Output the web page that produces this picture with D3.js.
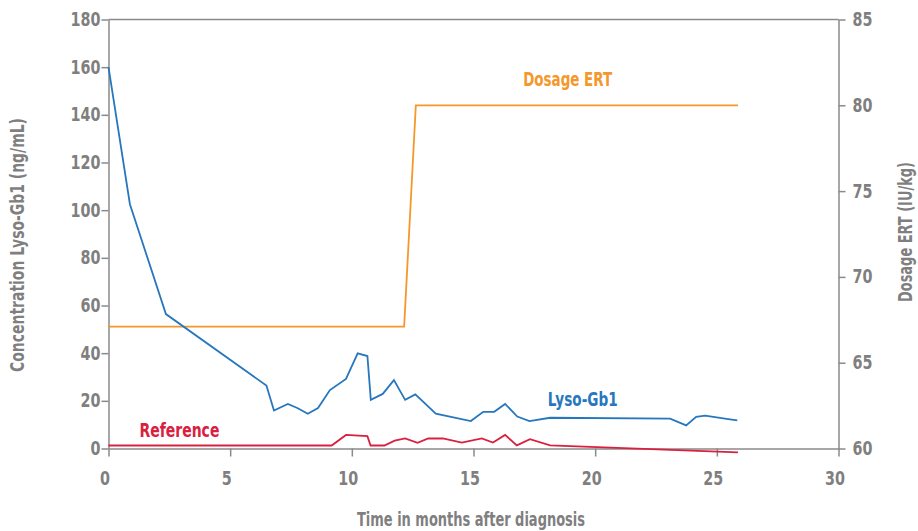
<!DOCTYPE html>
<html>
<head>
<meta charset="utf-8">
<script src="https://cdn.jsdelivr.net/npm/d3@7"></script>
<style>
  html, body { margin: 0; padding: 0; background: #fff; }
  svg { display: block; }
  text { font-family: "Liberation Sans Narrow", "DejaVu Sans Condensed", "Arial Narrow", sans-serif; font-weight: bold; }
</style>
</head>
<body>
<svg id="chart" width="918" height="531"></svg>
<script>
// ---- Data ----
const lysoMonths = [0, 0.88, 2.36, 6.49, 6.8, 7.37, 7.76, 8.19, 8.61, 9.1, 9.76, 10.24, 10.64, 10.78, 11.27, 11.73, 12.19, 12.61, 13.45, 14.89, 15.4, 15.85, 16.3, 16.8, 17.3, 18.15, 23.08, 23.74, 24.15, 24.52, 25.47, 25.84];
const lysoValues = [160, 102.5, 56.4, 26.4, 15.9, 18.7, 17.0, 14.6, 17.0, 24.5, 29.2, 39.9, 38.8, 20.4, 22.9, 28.7, 20.4, 22.7, 14.6, 11.5, 15.4, 15.4, 18.7, 13.4, 11.5, 12.9, 12.5, 9.7, 13.3, 13.8, 12.3, 11.8];

const refMonths = [0, 9.17, 9.76, 10.64, 10.77, 11.34, 11.76, 12.19, 12.7, 13.14, 13.74, 14.52, 15.34, 15.8, 16.3, 16.78, 17.32, 18.15, 25.87];
const refValues = [1.26, 1.26, 5.7, 5.2, 1.26, 1.26, 3.3, 4.2, 2.4, 4.2, 4.2, 2.5, 4.2, 2.5, 5.7, 1.3, 3.9, 1.3, -1.6];

const doseMonths = [0, 12.15, 12.63, 25.87];
const doseValues = [67.1, 67.1, 80, 80];

const xTicks = [0, 5, 10, 15, 20, 25, 30];
const yLeftTicks = [0, 20, 40, 60, 80, 100, 120, 140, 160, 180];
const yRightTicks = [60, 65, 70, 75, 80, 85];

const xTitle = "Time in months after diagnosis";
const yLeftTitle = "Concentration Lyso-Gb1 (ng/mL)";
const yRightTitle = "Dosage ERT (IU/kg)";
const seriesNames = ["Lyso-Gb1", "Reference", "Dosage ERT"];

// ---- Drawing ----
const C = { blue: "#2777bf", red: "#d9203f", orange: "#f4982b", axis: "#8a8a8a", text: "#7f7f7f" };
const svg = d3.select("#chart");
const L = 108.5, R = 838.5, T = 19.5, B = 448.5;
const SX = 0.84; // horizontal condensing of the fallback font

const x = d3.scaleLinear().domain([0, 30]).range([L, R]);
const yL = d3.scaleLinear().domain([0, 180]).range([B, T]);
const yR = d3.scaleLinear().domain([60, 85]).range([B, T]);

// frame top line
svg.append("line").attr("x1", L).attr("x2", R).attr("y1", T).attr("y2", T)
  .attr("stroke", C.axis).attr("stroke-width", 1.5);

function styleAxis(g, dx) {
  g.select(".domain").attr("stroke", C.axis).attr("stroke-width", 1.5);
  g.selectAll(".tick line").attr("stroke", C.axis).attr("stroke-width", 1.5);
  g.selectAll(".tick text").attr("fill", C.text).style("font-size", "19px")
    .each(function () {
      const t = d3.select(this);
      const tx = +(t.attr("x") || 0) + (dx || 0);
      t.attr("x", 0).attr("transform", `translate(${tx},0) scale(${SX},1)`);
    });
}

const gx = svg.append("g").attr("transform", `translate(0,${B})`)
  .call(d3.axisBottom(x).tickValues(xTicks).tickSize(8).tickSizeOuter(0).tickPadding(15));
styleAxis(gx, -4);

const gyl = svg.append("g").attr("transform", `translate(${L},0)`)
  .call(d3.axisLeft(yL).tickValues(yLeftTicks).tickSize(7).tickSizeOuter(0).tickPadding(1));
styleAxis(gyl, 0);

const gyr = svg.append("g").attr("transform", `translate(${R},0)`)
  .call(d3.axisRight(yR).tickValues(yRightTicks).tickSize(7).tickSizeOuter(0).tickPadding(7));
styleAxis(gyr, 0);

function label(sel, len) {
  return sel.attr("textLength", len).attr("lengthAdjust", "spacingAndGlyphs");
}

// axis titles
label(svg.append("text").attr("x", 471).attr("y", 526)
  .attr("text-anchor", "middle").attr("fill", C.text).style("font-size", "19px").text(xTitle), 228);
label(svg.append("text").attr("transform", `translate(24,245) rotate(-90)`)
  .attr("text-anchor", "middle").attr("fill", C.text).style("font-size", "19px").text(yLeftTitle), 254);
label(svg.append("text").attr("transform", `translate(912,232) rotate(-90)`)
  .attr("text-anchor", "middle").attr("fill", C.text).style("font-size", "19px").text(yRightTitle), 140);

// lines
const lineL = d3.line().x(d => x(d[0])).y(d => yL(d[1]));
const lineR = d3.line().x(d => x(d[0])).y(d => yR(d[1]));

svg.append("path").datum(d3.zip(doseMonths, doseValues)).attr("d", lineR)
  .attr("fill", "none").attr("stroke", C.orange).attr("stroke-width", 1.8);
svg.append("path").datum(d3.zip(refMonths, refValues)).attr("d", lineL)
  .attr("fill", "none").attr("stroke", C.red).attr("stroke-width", 1.8);
svg.append("path").datum(d3.zip(lysoMonths, lysoValues)).attr("d", lineL)
  .attr("fill", "none").attr("stroke", C.blue).attr("stroke-width", 1.8);

// series labels
label(svg.append("text").attr("x", x(18.05)).attr("y", yL(17.9)).attr("fill", C.blue)
  .style("font-size", "20px").text(seriesNames[0]), 70);
label(svg.append("text").attr("x", x(1.27)).attr("y", yL(5.0)).attr("fill", C.red)
  .style("font-size", "20px").text(seriesNames[1]), 80);
label(svg.append("text").attr("x", x(17.04)).attr("y", yR(81.1)).attr("fill", C.orange)
  .style("font-size", "20px").text(seriesNames[2]), 89);
</script>
</body>
</html>
